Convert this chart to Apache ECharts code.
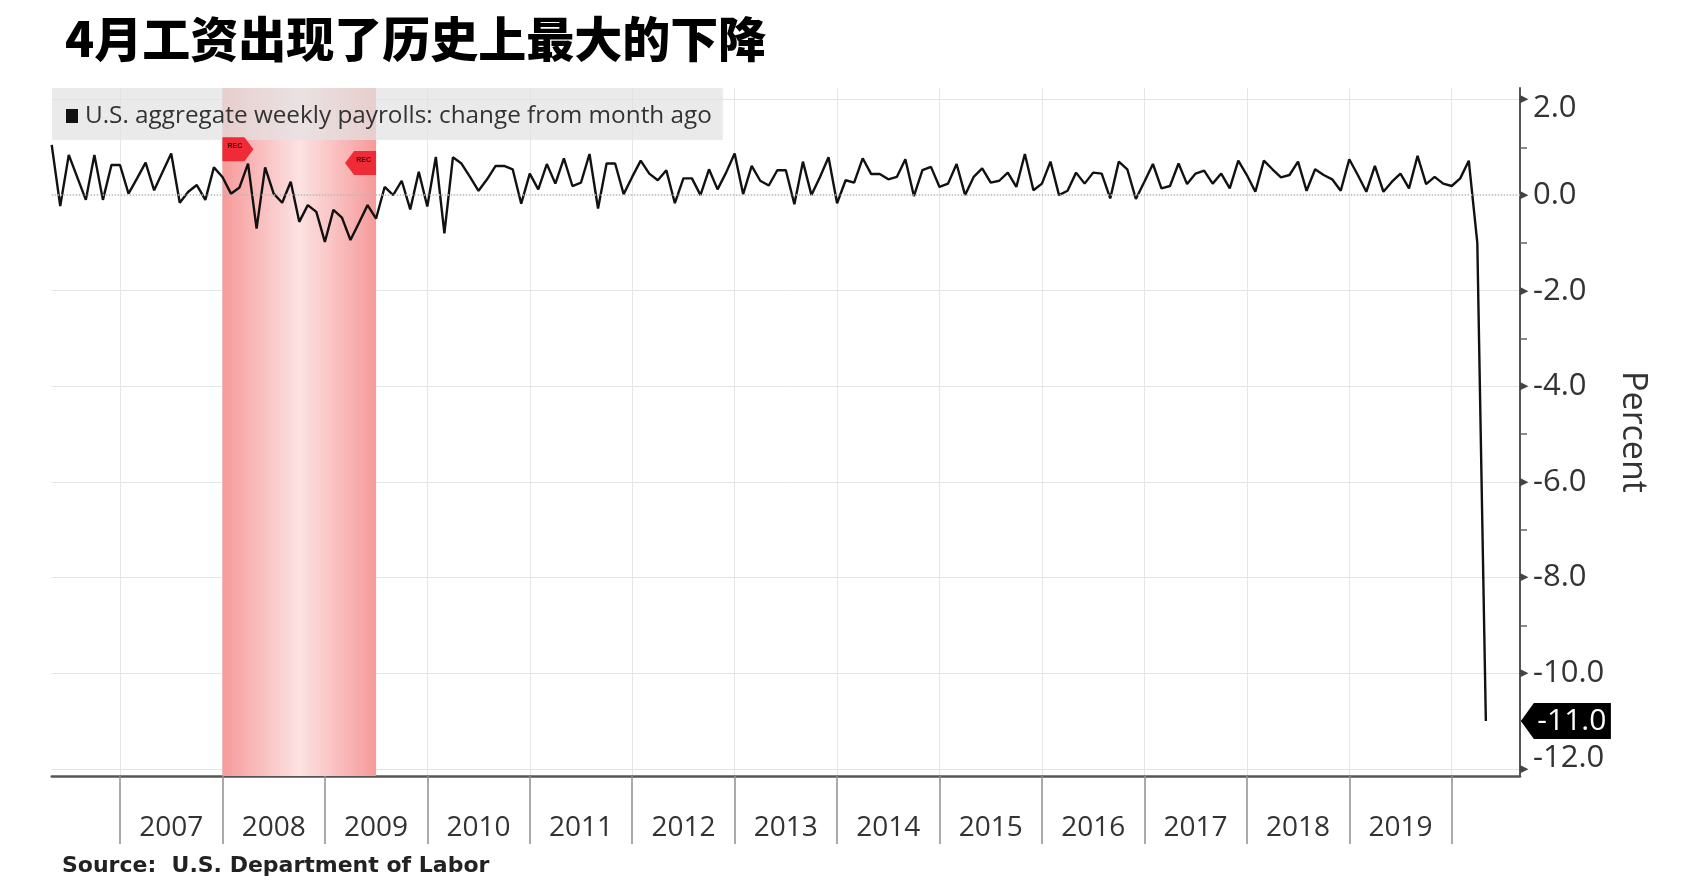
<!DOCTYPE html>
<html><head><meta charset="utf-8">
<script src="https://cdn.jsdelivr.net/npm/echarts@6/dist/echarts.min.js"></script>
<style>html,body{margin:0;padding:0;background:#fff}#c{width:1694px;height:881px}</style>
</head><body><div id="c"></div>
<script>
const titleText = '4月工资出现了历史上最大的下降';
const seriesName = 'U.S. aggregate weekly payrolls: change from month ago';
const sourceText = 'Source:  U.S. Department of Labor';

// monthly percent change, Apr 2006 .. Apr 2020
const values2006 = [1.05,-0.23,0.84,0.37,-0.10,0.84,-0.10,0.63,0.63];
const values2007 = [0.03,0.35,0.68,0.10,0.49,0.87,-0.16,0.07,0.21,-0.10,0.58,0.38];
const values2008 = [0.03,0.16,0.66,-0.70,0.58,0.03,-0.16,0.28,-0.56,-0.21,-0.35,-0.98];
const values2009 = [-0.31,-0.47,-0.94,-0.58,-0.21,-0.49,0.17,0.00,0.30,-0.30,0.49,-0.24];
const values2010 = [0.80,-0.80,0.79,0.66,0.38,0.09,0.33,0.61,0.61,0.54,-0.18,0.45];
const values2011 = [0.12,0.65,0.24,0.77,0.19,0.26,0.86,-0.28,0.66,0.66,0.02,0.38];
const values2012 = [0.72,0.45,0.31,0.52,-0.17,0.35,0.35,0.00,0.54,0.12,0.47,0.87];
const values2013 = [0.02,0.61,0.30,0.20,0.52,0.52,-0.19,0.70,0.00,0.38,0.79,-0.17];
const values2014 = [0.31,0.26,0.77,0.44,0.44,0.33,0.38,0.75,-0.02,0.52,0.59,0.17];
const values2015 = [0.24,0.65,0.00,0.38,0.56,0.26,0.30,0.47,0.17,0.86,0.10,0.24];
const values2016 = [0.70,0.00,0.09,0.47,0.24,0.47,0.45,-0.07,0.70,0.54,-0.08,0.28];
const values2017 = [0.65,0.14,0.19,0.66,0.23,0.45,0.51,0.24,0.45,0.14,0.72,0.42];
const values2018 = [0.07,0.72,0.54,0.37,0.42,0.70,0.09,0.54,0.42,0.33,0.09,0.75];
const values2019 = [0.42,0.07,0.61,0.07,0.28,0.45,0.14,0.82,0.23,0.38,0.24,0.19];
const values2020 = [0.35,0.72,-1.00,-11.00];

const firstMonth = [2006, 4];
const lastAxisMonth = [2020, 8];   // axis runs a few months past the last value
const labelYears = ['2007','2008','2009','2010','2011','2012','2013','2014','2015','2016','2017','2018','2019'];
const majorTicks = [-12,-10,-8,-6,-4,-2,0,2];
const gridTicks = [-12,-10,-8,-6,-4,-2,2];
const minorTicks = [-11,-9,-7,-5,-3,-1,1];
const recession = ['2007-12', '2009-06'];
const recFlagLevels = [0.96, 0.67];

const values = [].concat(values2006, values2007, values2008, values2009, values2010, values2011,
  values2012, values2013, values2014, values2015, values2016, values2017, values2018, values2019, values2020);

const categories = [];
for (let y = firstMonth[0], m = firstMonth[1]; y < lastAxisMonth[0] || (y === lastAxisMonth[0] && m <= lastAxisMonth[1]); ) {
  categories.push(y + '-' + String(m).padStart(2, '0'));
  m++; if (m > 12) { m = 1; y++; }
}
const lineData = categories.map((c, i) => i < values.length ? values[i] : null);
const lastIdx = values.length - 1;
const lastCat = categories[lastIdx];
const lastVal = values[lastIdx];

const FONT = 'Open Sans';
const isYearTick = (i, v) => v.slice(5) === '12' && v < '2020-12';
const isYearLabel = (i, v) => v.slice(5) === '06' && labelYears.indexOf(v.slice(0, 4)) >= 0;

const chart = echarts.init(document.getElementById('c'), null, {renderer: 'canvas'});
chart.setOption({
  animation: false,
  backgroundColor: '#fff',
  title: [
    {text: titleText, left: 60, top: 10,
     textStyle: {fontFamily: 'Noto Sans CJK SC', fontWeight: 900, fontSize: 48, color: '#000'}},
    {text: sourceText, left: 57, top: 850,
     textStyle: {fontFamily: 'DejaVu Sans', fontWeight: 'bold', fontSize: 22, color: '#222'}}
  ],
  legend: {
    left: 52, top: 88, orient: 'horizontal',
    padding: [16, 11, 12, 14],
    backgroundColor: 'rgba(226,226,226,0.72)',
    itemWidth: 12, itemHeight: 14, itemGap: 4,
    data: [{name: seriesName, icon: 'rect'}],
    textStyle: {fontFamily: FONT, fontSize: 24.3, color: '#333', padding: [0, 0, 0, 2]}
  },
  grid: {left: 51.7, right: 174, top: 88, bottom: 105, containLabel: false},
  xAxis: {
    type: 'category', data: categories, boundaryGap: false,
    axisLine: {onZero: false, lineStyle: {color: '#555', width: 2.5}},
    axisTick: {interval: isYearTick, length: 68, lineStyle: {color: '#8f8f8f', width: 1.5}},
    axisLabel: {interval: isYearLabel, formatter: v => v.slice(0, 4), margin: 38,
      fontFamily: FONT, fontSize: 28, color: '#333'},
    splitLine: {show: true, interval: isYearTick, lineStyle: {color: '#e6e6e6', width: 1}}
  },
  yAxis: [
    {type: 'value', position: 'right', min: -12.15, max: 2.24,
     axisLine: {show: true, onZero: false, lineStyle: {color: '#555', width: 2}},
     axisTick: {show: false, customValues: gridTicks},
     splitLine: {show: true, lineStyle: {color: '#e4e4e4', width: 1}},
     axisLabel: {customValues: majorTicks, margin: 13, fontFamily: FONT, fontSize: 31, color: '#333',
       formatter: v => v === 2 ? '{top|' + v.toFixed(1) + '}' : (v === -12 ? '{bot|' + v.toFixed(1) + '}' : v.toFixed(1)),
       rich: {top: {fontFamily: FONT, fontSize: 31, color: '#333', padding: [18, 0, 0, 0]},
              bot: {fontFamily: FONT, fontSize: 31, color: '#333', padding: [0, 0, 22, 0]}}},
     name: 'Percent', nameLocation: 'middle', nameRotate: -90, nameGap: 94,
     nameTextStyle: {fontFamily: FONT, fontSize: 34, color: '#333'}},
    {type: 'value', position: 'right', min: -12.15, max: 2.24,
     axisLine: {show: false},
     axisTick: {show: true, customValues: minorTicks, length: 7, lineStyle: {color: '#666', width: 1.5}},
     splitLine: {show: false}, axisLabel: {show: false}},
    {type: 'value', position: 'right', min: -12.15, max: 2.24,
     axisLine: {show: false}, axisTick: {show: false}, splitLine: {show: false},
     axisLabel: {customValues: majorTicks, margin: 0, formatter: () => '▶',
       fontFamily: 'DejaVu Sans', fontSize: 11, color: '#444'}}
  ],
  series: [{
    name: seriesName, type: 'line', data: lineData, yAxisIndex: 0,
    showSymbol: false, symbol: 'none', z: 3,
    lineStyle: {color: '#111', width: 2.4},
    itemStyle: {color: '#111'},
    markArea: {
      silent: true,
      itemStyle: {color: {type: 'linear', x: 0, y: 0, x2: 1, y2: 0,
        colorStops: [{offset: 0, color: '#f69a9a'}, {offset: 0.5, color: '#fde2e2'}, {offset: 1, color: '#f69a9a'}]}},
      data: [[{xAxis: recession[0]}, {xAxis: recession[1]}]]
    },
    markLine: {
      silent: true, symbol: 'none', label: {show: false},
      lineStyle: {type: 'dotted', color: '#b8b8b8', width: 1.5},
      data: [{yAxis: 0}]
    },
    markPoint: {
      silent: true,
      data: [
        {coord: [recession[0], recFlagLevels[0]], symbol: 'path://M0,0 L22,0 L31,12.5 L22,25 L0,25 Z',
         symbolSize: [31, 24], symbolOffset: ['50%', 0], itemStyle: {color: '#ee2b36'},
         label: {show: true, formatter: 'REC', fontSize: 7, fontWeight: 'bold', color: '#4a0a0a', offset: [-3, -3]}},
        {coord: [recession[1], recFlagLevels[1]], symbol: 'path://M9,0 L31,0 L31,25 L9,25 L0,12.5 Z',
         symbolSize: [31, 24], symbolOffset: ['-50%', 0], itemStyle: {color: '#ee2b36'},
         label: {show: true, formatter: 'REC', fontSize: 7, fontWeight: 'bold', color: '#4a0a0a', offset: [3, -3]}},
        {coord: [lastCat, lastVal], symbol: 'path://M0,18 L13,0 L90,0 L90,36 L13,36 Z',
         symbolSize: [90, 36], symbolOffset: [80, 0], itemStyle: {color: '#000'},
         label: {show: true, position: 'inside', formatter: p => lastVal.toFixed(1), fontFamily: FONT, fontSize: 30,
           color: '#fff', offset: [6, 0]}}
      ]
    }
  }]
});
</script></body></html>
